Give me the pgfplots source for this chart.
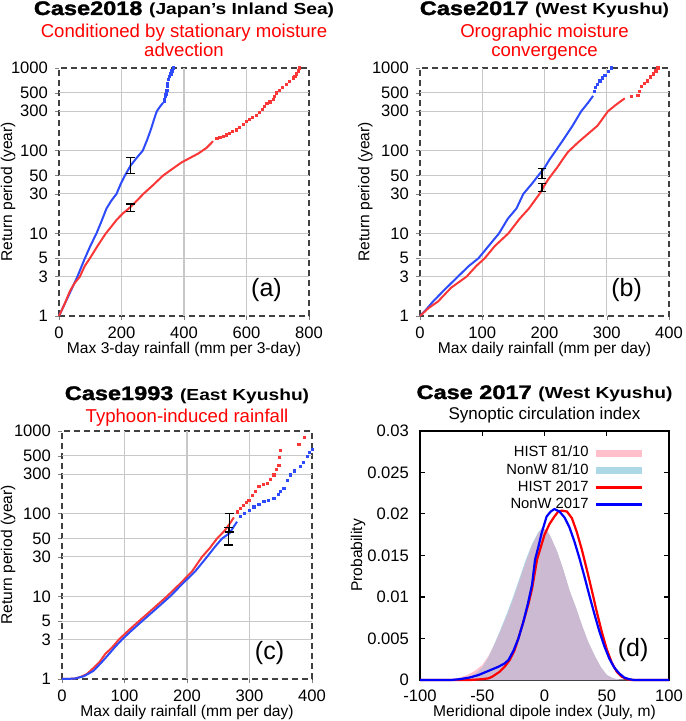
\documentclass[border=0pt]{standalone}
\usepackage{fontspec}
\setmainfont{Liberation Sans}
\newfontfamily\heavy[FakeBold=1.5]{Liberation Sans Bold}
\usepackage{pgfplots}
\pgfplotsset{compat=1.18}
\definecolor{myred}{RGB}{250,55,55}
\definecolor{myblue}{RGB}{45,75,250}
\definecolor{pinkc}{RGB}{255,192,203}
\definecolor{lbc}{RGB}{173,216,230}
\definecolor{ovl}{RGB}{204,186,210}
\definecolor{gridc}{RGB}{200,200,200}
\pgfplotsset{
  myretaxis/.style={
    scale only axis, anchor=south west, clip=false,
    xmin=0, ymin=1, ymax=1000,
    ytick={1,3,5,10,30,50,100,300,500,1000},
    yticklabels={1,3,5,10,30,50,100,300,500,1000},
    axis line style={densely dashed, black!75, line width=0.6pt},
    tick align=outside, xtick pos=bottom, ytick pos=left, major tick length=2pt,
    tick label style={font=\fontsize{8.3}{10}\selectfont},
    label style={font=\fontsize{7.8}{9}\selectfont},
    ylabel={Return period (year)},
    xlabel style={at={(axis description cs:0.5,-0.135)}, anchor=center},
  },
  mygrid/.style={forget plot, draw=gridc, line width=0.55pt, solid},
  mylin/.style={line width=1pt, forget plot},
  mydots/.style={only marks, mark=square*, mark size=0.55pt, forget plot},
  myeb/.style={black, line width=0.7pt, mark=-, mark size=2.2pt, mark options={solid, line width=0.7pt}, forget plot},
}
\newcommand{\ttl}[2]{\scalebox{1.2}[1]{{\heavy\fontsize{9.8}{12}\selectfont #1} {\bfseries\fontsize{8}{10}\selectfont #2}}}
\newcommand{\subt}{\fontsize{9.3}{11}\selectfont}
\newcommand{\plab}[1]{\node[font=\fontsize{12.5}{14}\selectfont] at (rel axis cs:0.83,0.105) {#1};}
\begin{document}
\begin{tikzpicture}
\path[use as bounding box] (0,0) rectangle (342.5pt,360.5pt);

% ---------- (a)
\begin{axis}[ymode=log, myretaxis, at={(29.5pt,202.5pt)}, width=125pt, height=124pt,
  xmax=800, xtick={0,200,400,600,800}, xticklabels={0,200,400,600,800},
  xlabel={Max 3-day rainfall (mm per 3-day)},
  ylabel style={at={(axis description cs:-0.204,0.5)}, anchor=center}]
\pgfplotsinvokeforeach{200,400,600}{\addplot[mygrid] coordinates {(#1,1)(#1,1000)};}
\pgfplotsinvokeforeach{3,5,10,30,50,100,300,500}{\addplot[mygrid] coordinates {(0,#1)(800,#1)};}
\addplot[mylin, myblue] coordinates {(0,1)(12,1.25)(24,1.56)(40,2.1)(59,3)(70,3.8)(83,5)(100,7)(120,10)(136,14)(152,20)(168,25)(184,30)(198,40)(211,50)(229,66)(250,83)(268,100)(282,135)(295,185)(305,245)(313,300)(323,340)(333,380)};
\addplot[mydots, myblue] coordinates {(336,400)(338,420)(340,450)(342,480)(344,500)(345,540)(347,600)(348,650)(350,720)(354,790)(358,850)(361,920)(365,1000)};
\addplot[mylin, myred] coordinates {(0,1)(18,1.4)(35,2)(50,2.5)(67,3)(82,4)(99,5)(125,7.2)(150,10)(167,12)(184,14.5)(205,17.5)(227,20.5)(250,25)(270,30)(300,38)(333,50)(365,61)(392,72)(420,82)(445,92)(472,108)(493,130)};
\addplot[mydots, myred] coordinates {(505,140)(515,145)(525,150)(536,155)(545,162)(555,170)(568,178)(578,190)(590,208)(600,225)(610,240)(620,250)(632,270)(640,290)(650,315)(658,345)(665,370)(675,390)(685,415)(690,450)(696,500)(705,540)(715,580)(728,630)(738,690)(749,760)(755,800)(760,850)(765,920)(770,1000)};
\addplot[myeb] coordinates {(228,53)(228,82)};
\addplot[myeb] coordinates {(228,18.4)(228,22.7)};
\plab{(a)}
\node[anchor=base] at ([yshift=26.5pt]rel axis cs:0.5,1) {\ttl{Case2018}{(Japan’s Inland Sea)}};
\node[anchor=base, text=red] at ([yshift=15pt]rel axis cs:0.5,1) {\subt Conditioned by stationary moisture};
\node[anchor=base, text=red] at ([yshift=5.5pt]rel axis cs:0.5,1) {\subt advection};
\end{axis}

% ---------- (b)
\begin{axis}[ymode=log, myretaxis, at={(210pt,202.5pt)}, width=124.5pt, height=124pt,
  xmax=400, xtick={0,100,200,300,400}, xticklabels={0,100,200,300,400},
  xlabel={Max daily rainfall (mm per day)},
  ylabel style={at={(axis description cs:-0.22,0.5)}, anchor=center}]
\pgfplotsinvokeforeach{100,200,300}{\addplot[mygrid] coordinates {(#1,1)(#1,1000)};}
\pgfplotsinvokeforeach{3,5,10,30,50,100,300,500}{\addplot[mygrid] coordinates {(0,#1)(400,#1)};}
\addplot[mylin, myblue] coordinates {(0,1)(10,1.2)(21,1.5)(40,2.1)(61,3)(78,4)(94,5)(110,7)(127,10)(141,15)(155,20)(166,30)(180,40)(190,50)(200,62)(208,78)(216,95)(230,135)(245,200)(259,300)(270,380)(278,460)};
\addplot[mydots, myblue] coordinates {(280,520)(282,580)(285,640)(289,700)(293,760)(297,820)(302,900)(307,1000)};
\addplot[mylin, myred] coordinates {(0,1)(14,1.25)(29,1.5)(50,2.2)(75,3)(90,4)(104,5)(120,7)(142,10)(160,15)(175,20)(192,30)(200,38)(206,45)(220,62)(230,80)(238,97)(255,128)(270,160)(285,200)(302,300)(315,360)(329,430)};
\addplot[mydots, myred] coordinates {(340,450)(350,470)(352,520)(355,600)(360,650)(365,700)(370,780)(375,850)(379,920)(382,1000)};
\addplot[myeb] coordinates {(196,46)(196,61)};
\addplot[myeb] coordinates {(196,32)(196,40)};
\plab{(b)}
\node[anchor=base] at ([yshift=26.5pt]rel axis cs:0.5,1) {\ttl{Case2017}{(West Kyushu)}};
\node[anchor=base, text=red] at ([yshift=15pt]rel axis cs:0.5,1) {\subt Orographic moisture};
\node[anchor=base, text=red] at ([yshift=5.5pt]rel axis cs:0.5,1) {\subt convergence};
\end{axis}

% ---------- (c)
\begin{axis}[ymode=log, myretaxis, at={(31pt,21pt)}, width=125pt, height=124pt,
  xmax=400, xtick={0,100,200,300,400}, xticklabels={0,100,200,300,400},
  xlabel={Max daily rainfall (mm per day)},
  ylabel style={at={(axis description cs:-0.216,0.5)}, anchor=center}]
\pgfplotsinvokeforeach{100,200,300}{\addplot[mygrid] coordinates {(#1,1)(#1,1000)};}
\pgfplotsinvokeforeach{3,5,10,30,50,100,300,500}{\addplot[mygrid] coordinates {(0,#1)(400,#1)};}
\addplot[mylin, myred] coordinates {(0,1)(20,1.01)(30,1.06)(40,1.15)(50,1.35)(60,1.6)(69,2)(80,2.4)(91,3)(107,3.9)(123,5)(145,7)(168,10)(190,14.5)(208,20)(224,30)(236,38)(248,50)(260,62)(268,75)(275,90)};
\addplot[mydots, myred] coordinates {(280,105)(285,115)(290,125)(295,138)(299,146)(305,165)(310,185)(315,212)(322,225)(328,232)(334,260)(339,294)(343,340)(347,388)(348,480)(349,589)(379,696)(388,838)};
\addplot[mylin, myblue] coordinates {(0,1)(20,1.01)(35,1.08)(50,1.25)(62,1.55)(75,2)(85,2.45)(96,3)(112,3.9)(128,5)(150,7)(173,10)(194,14.5)(213,20)(232,30)(245,40)(256,50)(268,58)(275,70)(280,80)};
\addplot[mydots, myblue] coordinates {(285,92)(292,100)(300,110)(307,121)(315,130)(323,140)(330,145)(339,153)(346,170)(350,185)(355,202)(360,250)(365,294)(372,330)(381,370)(386,420)(392,490)(396,550)(400,600)};
\addplot[myeb] coordinates {(268,60)(268,100)};
\addplot[myeb] coordinates {(266,42)(266,68)};
\plab{(c)}
\node[anchor=base] at ([yshift=15.5pt]rel axis cs:0.5,1) {\ttl{Case1993}{(East Kyushu)}};
\node[anchor=base, text=red] at ([yshift=4.5pt]rel axis cs:0.5,1) {\subt Typhoon-induced rainfall};
\end{axis}

% ---------- (d)
\begin{axis}[scale only axis, anchor=south west, clip=false,
  at={(210pt,20.5pt)}, width=124.5pt, height=124.5pt,
  xmin=-100, xmax=100, ymin=0, ymax=0.03,
  xtick={-100,-50,0,50,100}, xticklabels={-100,-50,0,50,100},
  ytick={0,0.005,0.01,0.015,0.02,0.025,0.03},
  yticklabels={0,0.005,0.01,0.015,0.02,0.025,0.03},
  scaled y ticks=false,
  tick align=inside, major tick length=2.5pt,
  axis line style={black, line width=0.6pt}, tick style={black, line width=0.5pt},
  tick label style={font=\fontsize{8.3}{10}\selectfont},
  yticklabel style={xshift=-2pt},
  xticklabel style={yshift=-1.5pt},
  label style={font=\fontsize{7.8}{9}\selectfont},
  xlabel={Meridional dipole index (July, m)},
  xlabel style={at={(axis description cs:0.5,-0.132)}, anchor=center},
  ylabel={Probability},
  ylabel style={at={(axis description cs:-0.249,0.5)}, anchor=center},
  legend image code/.code={\draw[#1] (0pt,0pt) -- (23pt,0pt);},
  legend plot pos=right, legend cell align=right,
  legend style={draw=none, fill=none, at={(rel axis cs:0.932,0.964)}, anchor=north east,
    font=\fontsize{7.4}{8.5}\selectfont, nodes={inner ysep=0.9pt, inner xsep=2pt}}]
\addplot[fill=pinkc, draw=none, forget plot] coordinates {(-100,0)(-85,0.00003)(-75,0.0001)(-68,0.0003)(-62,0.0006)(-56,0.0011)(-50,0.0018)(-45,0.0029)(-40,0.0044)(-35,0.0061)(-30,0.0079)(-25,0.0099)(-20,0.0120)(-15,0.0142)(-10,0.0162)(-5,0.0177)(-2,0.0183)(2,0.0180)(5,0.0172)(10,0.0155)(15,0.0133)(20,0.0108)(25,0.0088)(30,0.0066)(35,0.0046)(40,0.0030)(45,0.0016)(50,0.0006)(55,0.0002)(60,0.00005)(70,0)(100,0)} \closedcycle;
\addplot[fill=lbc, draw=none, forget plot] coordinates {(-100,0)(-80,0.00003)(-70,0.0001)(-65,0.0002)(-60,0.0004)(-55,0.0008)(-50,0.0015)(-45,0.0027)(-40,0.0044)(-35,0.0062)(-30,0.0081)(-25,0.0101)(-20,0.0123)(-15,0.0145)(-10,0.0164)(-5,0.0178)(-2,0.0183)(2,0.0180)(5,0.0172)(10,0.0155)(15,0.0133)(20,0.0108)(25,0.0088)(30,0.0066)(35,0.0046)(40,0.0030)(45,0.0016)(50,0.0006)(55,0.0002)(60,0.00005)(70,0)(100,0)} \closedcycle;
\addplot[fill=ovl, draw=none, forget plot] coordinates {(-100,0)(-80,0.00003)(-70,0.0001)(-65,0.0002)(-60,0.0004)(-55,0.0008)(-50,0.0015)(-45,0.0027)(-40,0.0043)(-35,0.0060)(-30,0.0078)(-25,0.0098)(-20,0.0120)(-15,0.0142)(-10,0.0162)(-5,0.0177)(-2,0.0183)(2,0.0180)(5,0.0172)(10,0.0155)(15,0.0133)(20,0.0108)(25,0.0088)(30,0.0066)(35,0.0046)(40,0.0030)(45,0.0016)(50,0.0006)(55,0.0002)(60,0.00005)(70,0)(100,0)} \closedcycle;
\addplot[red, line width=1.1pt, forget plot] coordinates {(-100,0)(-60,0)(-50,0.0001)(-45,0.0002)(-42,0.0004)(-36,0.001)(-32,0.0016)(-28,0.0024)(-24,0.0036)(-21,0.005)(-17,0.0070)(-13,0.0091)(-10,0.0110)(-6,0.0145)(-3,0.0160)(0,0.0175)(4,0.0188)(8,0.0197)(11,0.0203)(14,0.0204)(18,0.0203)(22,0.0195)(26,0.0178)(30,0.0157)(34,0.0133)(38,0.0108)(42,0.0082)(46,0.0058)(50,0.0037)(54,0.0021)(58,0.0010)(62,0.0004)(66,0.0001)(70,0)(100,0)};
\addplot[blue, line width=1.1pt, forget plot] coordinates {(-100,0)(-75,0)(-68,0.0001)(-60,0.0003)(-53,0.0006)(-45,0.0011)(-37,0.0016)(-32,0.0020)(-29,0.0024)(-25,0.0035)(-21,0.005)(-17,0.0070)(-13.5,0.0091)(-10,0.0115)(-7.6,0.0145)(-5,0.0160)(-2.3,0.0177)(1.7,0.0197)(5,0.0203)(8,0.0206)(12,0.0203)(16,0.0196)(20,0.0184)(24,0.0167)(28,0.0147)(32,0.0125)(36,0.0102)(40,0.0080)(44,0.0059)(48,0.0041)(52,0.0026)(56,0.0015)(60,0.0008)(64,0.0003)(68,0.0001)(72,0)(100,0)};
\addlegendimage{pinkc, line width=3.5pt}
\addlegendentry{HIST 81/10}
\addlegendimage{lbc, line width=3.5pt}
\addlegendentry{NonW 81/10}
\addlegendimage{red, line width=1.1pt}
\addlegendentry{HIST 2017}
\addlegendimage{blue, line width=1.1pt}
\addlegendentry{NonW 2017}
\node[font=\fontsize{12.5}{14}\selectfont] at (rel axis cs:0.856,0.12) {(d)};
\node[anchor=base] at ([yshift=16pt]rel axis cs:0.5,1) {\ttl{Case 2017}{(West Kyushu)}};
\node[anchor=base] at ([yshift=5.5pt]rel axis cs:0.5,1) {\fontsize{8.5}{10}\selectfont Synoptic circulation index};
\end{axis}
\end{tikzpicture}
\end{document}
